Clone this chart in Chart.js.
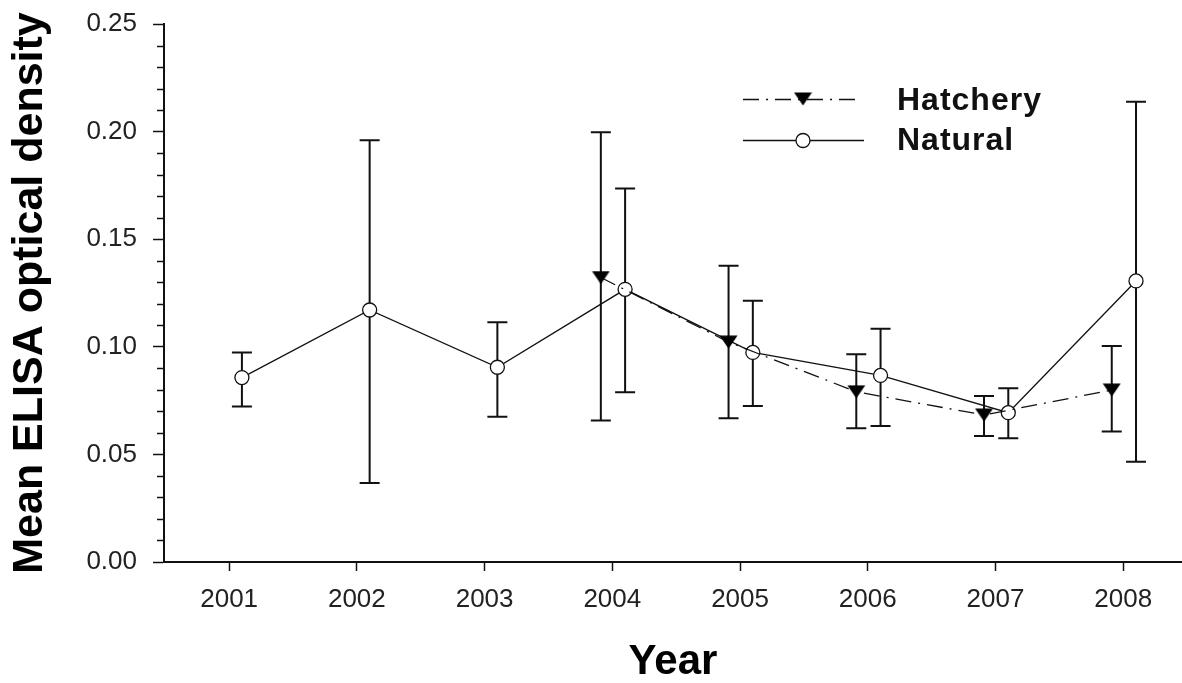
<!DOCTYPE html>
<html lang="en">
  <head>
    <meta charset="UTF-8" />
    <title>Mean ELISA optical density</title>
    <script src="https://cdn.jsdelivr.net/npm/chart.js"></script>
    <style>
      html, body { margin: 0; padding: 0; background: #fff; overflow: hidden; }
      #wrap { width: 1182px; height: 683px; }
    </style>
  </head>
  <body>
    <div id="wrap"><canvas id="myChart"></canvas></div>

    <script>
      // data
      const years = [2001, 2002, 2003, 2004, 2005, 2006, 2007, 2008];
      const yTicks = [0, 0.05, 0.1, 0.15, 0.2, 0.25];

      const natYears = [2001, 2002, 2003, 2004, 2005, 2006, 2007, 2008];
      const natMean = [0.0857, 0.1171, 0.0905, 0.1267, 0.0974, 0.0867, 0.0694, 0.1306];
      const natLow = [0.0723, 0.0367, 0.0675, 0.0789, 0.0725, 0.0632, 0.0575, 0.0466];
      const natHigh = [0.0974, 0.196, 0.1114, 0.1736, 0.1214, 0.1084, 0.0807, 0.2139];

      const hatYears = [2004, 2005, 2006, 2007, 2008];
      const hatMean = [0.1322, 0.1022, 0.0791, 0.0683, 0.0799];
      const hatLow = [0.0657, 0.0668, 0.0621, 0.0585, 0.0606];
      const hatHigh = [0.1997, 0.1377, 0.0965, 0.0771, 0.1004];

      // small horizontal shift so the two groups don't sit on top of each other
      const hatShift = -0.09;
      const natShift = 0.1;

      const ink = "#111";
      const hatDash = [16, 7, 2, 7];

      // flat down-pointing triangle used as marker
      const tri = document.createElement("canvas");
      tri.width = 19;
      tri.height = 14;
      const tctx = tri.getContext("2d");
      tctx.fillStyle = "#000";
      tctx.beginPath();
      tctx.moveTo(0.5, 0.5);
      tctx.lineTo(18.5, 0.5);
      tctx.lineTo(9.5, 13.5);
      tctx.closePath();
      tctx.fill();

      const hatPoints = hatYears.map((yr, i) => ({ x: yr + hatShift, y: hatMean[i], lo: hatLow[i], hi: hatHigh[i] }));
      const natPoints = natYears.map((yr, i) => ({ x: yr + natShift, y: natMean[i], lo: natLow[i], hi: natHigh[i] }));

      const errorBars = {
        id: "errorBars",
        beforeDatasetsDraw(chart) {
          const { ctx, scales } = chart;
          ctx.save();
          ctx.strokeStyle = ink;
          ctx.lineWidth = 2;
          chart.data.datasets.forEach((ds) => {
            ds.data.forEach((p) => {
              const x = scales.x.getPixelForValue(p.x);
              const yl = scales.y.getPixelForValue(p.lo);
              const yh = scales.y.getPixelForValue(p.hi);
              ctx.beginPath();
              ctx.moveTo(x, yl);
              ctx.lineTo(x, yh);
              ctx.moveTo(x - 10, yl);
              ctx.lineTo(x + 10, yl);
              ctx.moveTo(x - 10, yh);
              ctx.lineTo(x + 10, yh);
              ctx.stroke();
            });
          });
          ctx.restore();
        },
      };

      // minor ticks on the y axis every 0.01
      const minorTicks = {
        id: "minorTicks",
        afterDraw(chart) {
          const { ctx, scales, chartArea } = chart;
          ctx.save();
          ctx.strokeStyle = ink;
          ctx.lineWidth = 1.5;
          for (let i = 1; i < 25; i++) {
            if (i % 5 === 0) continue;
            const y = Math.round(scales.y.getPixelForValue(i / 100)) + 0.5;
            ctx.beginPath();
            ctx.moveTo(chartArea.left - 7, y);
            ctx.lineTo(chartArea.left, y);
            ctx.stroke();
          }
          ctx.restore();
        },
      };

      const legendBox = {
        id: "legendBox",
        afterDraw(chart) {
          const ctx = chart.ctx;
          ctx.save();
          ctx.strokeStyle = ink;
          ctx.lineWidth = 1.3;
          // Hatchery
          ctx.setLineDash(hatDash);
          ctx.beginPath();
          ctx.moveTo(743, 99.5);
          ctx.lineTo(860, 99.5);
          ctx.stroke();
          ctx.setLineDash([]);
          ctx.drawImage(tri, 803 - 9.5, 99 - 7);
          // Natural
          ctx.beginPath();
          ctx.moveTo(743, 140.5);
          ctx.lineTo(864, 140.5);
          ctx.stroke();
          ctx.beginPath();
          ctx.fillStyle = "#fff";
          ctx.arc(803, 140.5, 7, 0, Math.PI * 2);
          ctx.fill();
          ctx.stroke();
          ctx.fillStyle = "#111";
          ctx.font = "bold 32px 'Liberation Sans', Arial, sans-serif";
          ctx.letterSpacing = "1px";
          ctx.textBaseline = "middle";
          ctx.fillText("Hatchery", 897, 101);
          ctx.fillText("Natural", 897, 141);
          ctx.restore();
        },
      };

      const config = {
        type: "line",
        data: {
          datasets: [
            {
              label: "Hatchery",
              data: hatPoints,
              borderColor: ink,
              borderWidth: 1.3,
              borderDash: hatDash,
              pointStyle: tri,
              pointRadius: 7,
              pointHoverRadius: 7,
              fill: false,
            },
            {
              label: "Natural",
              data: natPoints,
              borderColor: ink,
              borderWidth: 1.3,
              pointStyle: "circle",
              pointRadius: 7,
              pointHoverRadius: 7,
              pointBackgroundColor: "#fff",
              pointBorderColor: ink,
              pointBorderWidth: 1.3,
              fill: false,
            },
          ],
        },
        options: {
          responsive: true,
          maintainAspectRatio: false,
          animation: false,
          layout: { autoPadding: false, padding: { top: 24, right: 0, left: 0, bottom: 0 } },
          plugins: {
            legend: { display: false },
            tooltip: { enabled: false },
          },
          scales: {
            x: {
              type: "linear",
              min: 2000.49,
              max: 2008.46,
              afterBuildTicks: (s) => {
                s.ticks = years.map((v) => ({ value: v }));
              },
              afterFit: (s) => {
                s.height = 121;
                s.paddingLeft = 0;
                s.paddingRight = 0;
              },
              grid: { drawOnChartArea: false, tickLength: 9, tickColor: ink, tickWidth: 1.5 },
              border: { color: ink, width: 2 },
              ticks: {
                padding: 13,
                color: "#222",
                font: { family: "'Liberation Sans', Arial, sans-serif", size: 26 },
                callback: (v) => String(v),
              },
              title: {
                display: true,
                text: "Year",
                color: "#000",
                padding: { top: 0, bottom: 0 },
                font: { family: "'Liberation Sans', Arial, sans-serif", size: 42, weight: "bold", lineHeight: 1 },
              },
            },
            y: {
              min: 0,
              max: 0.25,
              afterBuildTicks: (s) => {
                s.ticks = yTicks.map((v) => ({ value: v }));
              },
              afterFit: (s) => {
                s.width = 164;
                s.paddingTop = 0;
                s.paddingBottom = 0;
              },
              grid: { drawOnChartArea: false, tickLength: 11, tickColor: ink, tickWidth: 1.5 },
              border: { color: ink, width: 2 },
              ticks: {
                padding: 16,
                color: "#222",
                font: { family: "'Liberation Sans', Arial, sans-serif", size: 26 },
                callback: (v) => v.toFixed(2),
              },
              title: {
                display: true,
                text: "Mean ELISA optical density",
                color: "#000",
                padding: { top: 9, bottom: 0 },
                font: { family: "'Liberation Sans', Arial, sans-serif", size: 43, weight: "bold", lineHeight: 1 },
              },
            },
          },
        },
        plugins: [errorBars, minorTicks, legendBox],
      };

      new Chart(document.getElementById("myChart"), config);
    </script>
  </body>
</html>
